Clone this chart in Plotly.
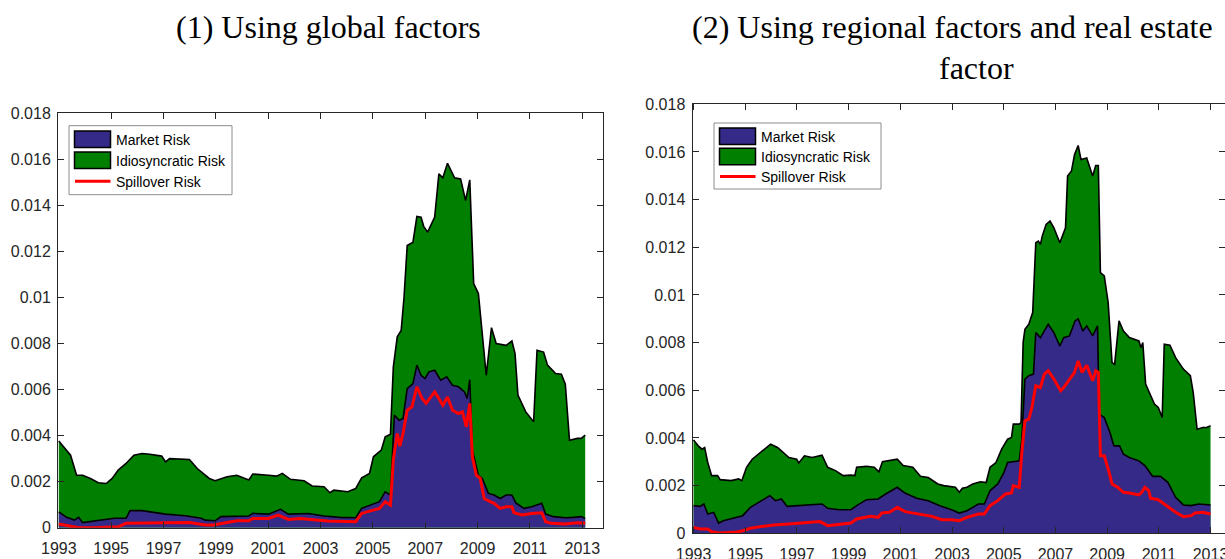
import plotly.graph_objects as go

W, H = 1225, 559

# ---------------- DATA ----------------
# Panel (1): Using global factors
left_total_years = [1993.00, 1993.23, 1993.45, 1993.68, 1993.91, 1994.21, 1994.51, 1994.81, 1995.04, 1995.27,
                    1995.57, 1995.87, 1996.18, 1996.48, 1996.93, 1997.08, 1997.23, 1997.99, 1998.29, 1998.75,
                    1998.97, 1999.43, 1999.80, 2000.26, 2000.41, 2001.01, 2001.32, 2001.54, 2001.85, 2002.37,
                    2002.68, 2003.13, 2003.36, 2003.51, 2004.04, 2004.34, 2004.57, 2004.87, 2005.02, 2005.32,
                    2005.47, 2005.67, 2005.78, 2005.93, 2006.08, 2006.19, 2006.31, 2006.53, 2006.68, 2006.84,
                    2006.94, 2007.09, 2007.21, 2007.36, 2007.52, 2007.67, 2007.85, 2007.97, 2008.12, 2008.35,
                    2008.54, 2008.70, 2008.76, 2008.85, 2009.03, 2009.21, 2009.33, 2009.53, 2009.71, 2010.09,
                    2010.31, 2010.43, 2010.54, 2010.84, 2011.14, 2011.27, 2011.52, 2011.67, 2011.98, 2012.20,
                    2012.35, 2012.51, 2012.81, 2012.96, 2013.11]
left_total_risk = [0.00377, 0.00344, 0.00315, 0.00228, 0.00228, 0.00214, 0.00195, 0.00192, 0.00214, 0.00250,
                   0.00279, 0.00315, 0.00322, 0.00319, 0.00311, 0.00286, 0.00300, 0.00296, 0.00257, 0.00214,
                   0.00204, 0.00221, 0.00228, 0.00207, 0.00233, 0.00228, 0.00224, 0.00236, 0.00210, 0.00204,
                   0.00181, 0.00178, 0.00152, 0.00163, 0.00156, 0.00170, 0.00217, 0.00236, 0.00308, 0.00337,
                   0.00395, 0.00406, 0.00698, 0.00829, 0.00857, 0.01002, 0.01226, 0.01240, 0.01352, 0.01349,
                   0.01309, 0.01284, 0.01313, 0.01349, 0.01537, 0.01520, 0.01583, 0.01552, 0.01520, 0.01515,
                   0.01421, 0.01511, 0.01291, 0.01060, 0.01017, 0.00814, 0.00662, 0.00869, 0.00800, 0.00792,
                   0.00811, 0.00756, 0.00576, 0.00503, 0.00460, 0.00771, 0.00763, 0.00706, 0.00670, 0.00667,
                   0.00623, 0.00380, 0.00388, 0.00388, 0.00402]

left_market_years = [1993.00, 1993.30, 1993.60, 1993.76, 1993.91, 1994.51, 1995.12, 1995.57, 1995.72, 1996.18,
                     1996.78, 1997.08, 1997.84, 1998.44, 1998.59, 1998.97, 1999.20, 1999.80, 2000.26, 2000.41,
                     2001.01, 2001.47, 2001.77, 2002.53, 2003.13, 2003.74, 2004.34, 2004.57, 2004.87, 2005.25,
                     2005.47, 2005.67, 2005.82, 2006.00, 2006.15, 2006.31, 2006.53, 2006.68, 2006.84, 2006.99,
                     2007.14, 2007.36, 2007.59, 2007.82, 2008.04, 2008.27, 2008.50, 2008.60, 2008.70, 2008.80,
                     2009.03, 2009.18, 2009.41, 2009.63, 2009.86, 2010.09, 2010.31, 2010.46, 2010.77, 2011.07,
                     2011.45, 2011.60, 2011.90, 2012.35, 2012.66, 2012.96, 2013.11]
left_market_risk = [0.00069, 0.00045, 0.00033, 0.00045, 0.00022, 0.00033, 0.00041, 0.00041, 0.00074, 0.00074,
                    0.00065, 0.00059, 0.00052, 0.00041, 0.00033, 0.00030, 0.00048, 0.00051, 0.00051, 0.00062,
                    0.00059, 0.00080, 0.00059, 0.00062, 0.00051, 0.00045, 0.00043, 0.00084, 0.00098, 0.00113,
                    0.00156, 0.00142, 0.00489, 0.00467, 0.00474, 0.00604, 0.00626, 0.00706, 0.00662, 0.00648,
                    0.00677, 0.00684, 0.00641, 0.00655, 0.00619, 0.00612, 0.00590, 0.00561, 0.00643, 0.00337,
                    0.00228, 0.00214, 0.00149, 0.00142, 0.00127, 0.00142, 0.00142, 0.00108, 0.00084, 0.00091,
                    0.00106, 0.00059, 0.00048, 0.00043, 0.00045, 0.00048, 0.00040]

left_spill_years = [1993.00, 1993.45, 1993.76, 1994.51, 1995.27, 1995.57, 1996.02, 1997.08, 1997.99, 1998.59,
                    1998.90, 1999.35, 1999.80, 2000.26, 2000.41, 2001.01, 2001.39, 2001.77, 2002.22, 2002.83,
                    2003.28, 2004.34, 2004.57, 2004.94, 2005.25, 2005.47, 2005.67, 2005.78, 2005.93, 2006.03,
                    2006.15, 2006.31, 2006.49, 2006.68, 2006.88, 2007.03, 2007.21, 2007.36, 2007.52, 2007.67,
                    2007.85, 2008.04, 2008.27, 2008.42, 2008.57, 2008.70, 2008.80, 2008.95, 2009.10, 2009.25,
                    2009.48, 2009.63, 2009.86, 2010.09, 2010.31, 2010.39, 2010.69, 2011.07, 2011.45, 2011.60,
                    2011.82, 2012.35, 2012.81, 2013.11]
left_spill_risk = [0.00016, 0.00007, 0.00000, 0.00001, 0.00004, 0.00019, 0.00019, 0.00022, 0.00023, 0.00012,
                   0.00012, 0.00022, 0.00030, 0.00030, 0.00040, 0.00040, 0.00055, 0.00036, 0.00040, 0.00033,
                   0.00029, 0.00026, 0.00062, 0.00074, 0.00084, 0.00113, 0.00098, 0.00294, 0.00409, 0.00354,
                   0.00409, 0.00510, 0.00525, 0.00612, 0.00561, 0.00540, 0.00568, 0.00590, 0.00561, 0.00532,
                   0.00568, 0.00510, 0.00496, 0.00503, 0.00438, 0.00540, 0.00308, 0.00228, 0.00214, 0.00127,
                   0.00113, 0.00106, 0.00084, 0.00091, 0.00091, 0.00065, 0.00055, 0.00062, 0.00065, 0.00026,
                   0.00019, 0.00016, 0.00022, 0.00019]

# Panel (2): Using regional factors and real estate factor
right_total_years = [1993.00, 1993.18, 1993.33, 1993.43, 1993.55, 1993.70, 1993.93, 1994.03, 1994.45, 1994.75,
                     1994.87, 1995.05, 1995.27, 1995.65, 1995.98, 1996.25, 1996.69, 1996.99, 1997.07, 1997.29,
                     1997.59, 1997.97, 1998.19, 1998.49, 1998.79, 1999.09, 1999.24, 1999.31, 1999.69, 1999.99,
                     2000.17, 2000.31, 2000.58, 2000.88, 2001.11, 2001.48, 2001.78, 2002.08, 2002.45, 2002.68,
                     2003.13, 2003.28, 2003.40, 2003.58, 2003.80, 2004.10, 2004.32, 2004.47, 2004.70, 2004.92,
                     2005.15, 2005.30, 2005.37, 2005.60, 2005.67, 2005.75, 2005.82, 2005.97, 2006.12, 2006.24,
                     2006.34, 2006.42, 2006.49, 2006.64, 2006.79, 2006.94, 2007.17, 2007.32, 2007.39, 2007.47,
                     2007.62, 2007.74, 2007.88, 2007.99, 2008.21, 2008.44, 2008.56, 2008.66, 2008.74, 2008.89,
                     2009.04, 2009.19, 2009.29, 2009.46, 2009.63, 2009.86, 2010.23, 2010.31, 2010.38, 2010.49,
                     2010.68, 2010.83, 2010.98, 2011.13, 2011.21, 2011.43, 2011.65, 2011.95, 2012.22, 2012.33,
                     2012.48, 2012.70, 2012.85, 2013.00]
right_total_risk = [0.00392, 0.00367, 0.00353, 0.00360, 0.00297, 0.00242, 0.00242, 0.00225, 0.00221, 0.00228,
                    0.00221, 0.00277, 0.00311, 0.00346, 0.00374, 0.00360, 0.00318, 0.00311, 0.00295, 0.00325,
                    0.00318, 0.00328, 0.00277, 0.00263, 0.00242, 0.00244, 0.00242, 0.00277, 0.00281, 0.00277,
                    0.00258, 0.00300, 0.00304, 0.00311, 0.00284, 0.00277, 0.00239, 0.00234, 0.00207, 0.00200,
                    0.00193, 0.00172, 0.00189, 0.00193, 0.00207, 0.00216, 0.00213, 0.00277, 0.00297, 0.00353,
                    0.00395, 0.00402, 0.00458, 0.00458, 0.00465, 0.00800, 0.00856, 0.00877, 0.00926, 0.01219,
                    0.01226, 0.01212, 0.01247, 0.01296, 0.01310, 0.01282, 0.01219, 0.01268, 0.01282, 0.01499,
                    0.01520, 0.01589, 0.01627, 0.01568, 0.01575, 0.01499, 0.01543, 0.01543, 0.01094, 0.01080,
                    0.00968, 0.00716, 0.00709, 0.00891, 0.00849, 0.00821, 0.00807, 0.00779, 0.00800, 0.00626,
                    0.00577, 0.00542, 0.00528, 0.00486, 0.00793, 0.00789, 0.00737, 0.00689, 0.00661, 0.00591,
                    0.00437, 0.00444, 0.00444, 0.00451]

right_market_years = [1993.00, 1993.25, 1993.40, 1993.55, 1993.78, 1993.97, 1994.15, 1994.60, 1994.90, 1995.20,
                      1995.65, 1995.95, 1996.17, 1996.40, 1996.62, 1997.14, 1997.59, 1997.97, 1998.19, 1998.64,
                      1999.09, 1999.31, 1999.69, 2000.14, 2000.43, 2000.88, 2001.18, 2001.63, 2002.08, 2002.53,
                      2002.98, 2003.28, 2003.58, 2004.02, 2004.25, 2004.47, 2004.77, 2005.00, 2005.15, 2005.37,
                      2005.60, 2005.70, 2005.82, 2005.97, 2006.15, 2006.24, 2006.42, 2006.57, 2006.72, 2006.94,
                      2007.17, 2007.32, 2007.54, 2007.76, 2007.88, 2008.06, 2008.21, 2008.44, 2008.63, 2008.69,
                      2008.89, 2009.11, 2009.26, 2009.48, 2009.63, 2009.86, 2010.23, 2010.46, 2010.76, 2011.06,
                      2011.35, 2011.65, 2011.95, 2012.25, 2012.55, 2013.00]
right_market_risk = [0.00116, 0.00113, 0.00123, 0.00081, 0.00088, 0.00043, 0.00053, 0.00067, 0.00074, 0.00109,
                     0.00137, 0.00158, 0.00137, 0.00144, 0.00113, 0.00116, 0.00119, 0.00123, 0.00105, 0.00099,
                     0.00099, 0.00116, 0.00141, 0.00144, 0.00165, 0.00193, 0.00169, 0.00147, 0.00137, 0.00116,
                     0.00099, 0.00085, 0.00095, 0.00123, 0.00123, 0.00179, 0.00207, 0.00253, 0.00297, 0.00300,
                     0.00304, 0.00395, 0.00647, 0.00661, 0.00668, 0.00842, 0.00821, 0.00849, 0.00877, 0.00842,
                     0.00786, 0.00821, 0.00828, 0.00891, 0.00900, 0.00849, 0.00870, 0.00828, 0.00870, 0.00500,
                     0.00486, 0.00423, 0.00367, 0.00367, 0.00332, 0.00318, 0.00304, 0.00284, 0.00239, 0.00239,
                     0.00214, 0.00151, 0.00119, 0.00116, 0.00123, 0.00119]

right_spill_years = [1993.00, 1993.25, 1993.55, 1993.70, 1994.00, 1994.60, 1994.90, 1995.20, 1995.65, 1996.10,
                     1996.69, 1997.29, 1997.89, 1998.19, 1998.64, 1999.09, 1999.31, 1999.84, 2000.14, 2000.29,
                     2000.58, 2000.88, 2001.18, 2001.48, 2001.93, 2002.23, 2002.60, 2002.98, 2003.28, 2003.58,
                     2004.02, 2004.25, 2004.47, 2004.77, 2005.07, 2005.30, 2005.37, 2005.60, 2005.70, 2005.82,
                     2005.97, 2006.09, 2006.24, 2006.42, 2006.57, 2006.72, 2006.94, 2007.20, 2007.32, 2007.54,
                     2007.74, 2007.88, 2008.03, 2008.21, 2008.44, 2008.56, 2008.66, 2008.74, 2008.89, 2009.04,
                     2009.19, 2009.41, 2009.63, 2009.86, 2010.23, 2010.34, 2010.46, 2010.61, 2010.68, 2010.98,
                     2011.21, 2011.43, 2011.65, 2011.95, 2012.25, 2012.40, 2012.70, 2013.00]
right_spill_risk = [0.00025, 0.00018, 0.00018, 0.00007, 0.00001, 0.00004, 0.00011, 0.00021, 0.00029, 0.00035,
                    0.00039, 0.00043, 0.00049, 0.00032, 0.00039, 0.00043, 0.00060, 0.00071, 0.00067, 0.00085,
                    0.00088, 0.00109, 0.00091, 0.00085, 0.00077, 0.00071, 0.00057, 0.00057, 0.00053, 0.00067,
                    0.00081, 0.00081, 0.00116, 0.00137, 0.00165, 0.00169, 0.00200, 0.00193, 0.00339, 0.00472,
                    0.00479, 0.00528, 0.00619, 0.00612, 0.00668, 0.00682, 0.00647, 0.00598, 0.00612, 0.00647,
                    0.00675, 0.00723, 0.00675, 0.00705, 0.00640, 0.00682, 0.00675, 0.00325, 0.00325, 0.00270,
                    0.00207, 0.00193, 0.00172, 0.00169, 0.00161, 0.00172, 0.00193, 0.00179, 0.00147, 0.00141,
                    0.00123, 0.00109, 0.00088, 0.00070, 0.00074, 0.00085, 0.00088, 0.00081]

x_tick_years = [1993, 1995, 1997, 1999, 2001, 2003, 2005, 2007, 2009, 2011, 2013]
y_tick_values = [0, 0.002, 0.004, 0.006, 0.008, 0.01, 0.012, 0.014, 0.016, 0.018]
y_tick_labels = ["0", "0.002", "0.004", "0.006", "0.008", "0.01", "0.012", "0.014", "0.016", "0.018"]
series_names = ["Market Risk", "Idiosyncratic Risk", "Spillover Risk"]
titles = ["(1) Using global factors", "(2) Using regional factors and real estate", "factor"]

# ---------------- STYLE ----------------
BLUE = "#352a87"
GREEN = "#007f00"
RED = "#ff0000"
AX = "#262626"


def fx(p):
    return p / W


def fy(p):
    return 1 - p / H


fig = go.Figure()

panels = [
    ("x", "y", left_total_years, left_total_risk, left_market_years, left_market_risk,
     left_spill_years, left_spill_risk),
    ("x2", "y2", right_total_years, right_total_risk, right_market_years, right_market_risk,
     right_spill_years, right_spill_risk),
]
for xa, ya, tx, ty, mx, my, sx, sy in panels:
    fig.add_trace(go.Scatter(x=tx, y=ty, mode="lines", fill="tozeroy", fillcolor=GREEN,
                             line=dict(color="black", width=1.6), name=series_names[1],
                             showlegend=False, xaxis=xa, yaxis=ya, hoverinfo="skip"))
    fig.add_trace(go.Scatter(x=mx, y=my, mode="lines", fill="tozeroy", fillcolor=BLUE,
                             line=dict(color="black", width=1.6), name=series_names[0],
                             showlegend=False, xaxis=xa, yaxis=ya, hoverinfo="skip"))
    fig.add_trace(go.Scatter(x=sx, y=sy, mode="lines",
                             line=dict(color=RED, width=3), name=series_names[2],
                             showlegend=False, xaxis=xa, yaxis=ya, hoverinfo="skip"))

tick_font = dict(family="Liberation Sans, Arial", size=16, color=AX)
common_x = dict(tickvals=x_tick_years, ticktext=[str(v) for v in x_tick_years],
                ticks="inside", ticklen=6, tickwidth=1, tickcolor=AX,
                showline=True, linecolor=AX, linewidth=1, mirror="ticks",
                showgrid=False, zeroline=False, automargin=False,
                ticklabelstandoff=6, ticklabeloverflow="allow", tickfont=tick_font)
common_y = dict(tickvals=y_tick_values, ticktext=y_tick_labels, range=[0, 0.018],
                ticks="inside", ticklen=6, tickwidth=1, tickcolor=AX,
                showline=True, linecolor=AX, linewidth=1, mirror="ticks",
                showgrid=False, zeroline=False, automargin=False,
                ticklabelstandoff=3, ticklabeloverflow="allow", tickfont=tick_font)

fig.update_layout(
    width=W, height=H, margin=dict(l=0, r=0, t=0, b=0),
    paper_bgcolor="white", plot_bgcolor="white", template="none",
    showlegend=False,
    xaxis=dict(domain=[fx(58), fx(603)], range=[1992.97, 2013.79], anchor="y", **common_x),
    yaxis=dict(domain=[fy(527.7), fy(113.3)], anchor="x", **common_y),
    xaxis2=dict(domain=[fx(692.5), 1.0], range=[1992.96, 2013.56], anchor="y2", **common_x),
    yaxis2=dict(domain=[fy(533.3), fy(104.3)], anchor="x2", **common_y),
)

# titles
title_font = dict(family="Liberation Serif, Times New Roman", size=32, color="black")
fig.add_annotation(text=titles[0], x=fx(328), y=fy(27), xref="paper", yref="paper",
                   xanchor="center", yanchor="middle", showarrow=False, font=title_font)
fig.add_annotation(text=titles[1], x=fx(952), y=fy(27), xref="paper", yref="paper",
                   xanchor="center", yanchor="middle", showarrow=False, font=title_font)
fig.add_annotation(text=titles[2], x=fx(976), y=fy(68), xref="paper", yref="paper",
                   xanchor="center", yanchor="middle", showarrow=False, font=title_font)

# hand-drawn legends (MATLAB style)
leg_font = dict(family="Liberation Sans, Arial", size=14, color="black")
for (bx, by, bw, bh) in [(69, 125.7, 163, 69), (714, 123, 167, 66)]:
    fig.add_shape(type="rect", xref="paper", yref="paper",
                  x0=fx(bx), x1=fx(bx + bw), y0=fy(by + bh), y1=fy(by),
                  line=dict(color="#8c8c8c", width=1), fillcolor="white")
    rows = [by + 13.5, by + 34.5, by + 55.5] if bh > 67 else [by + 13.3, by + 33.5, by + 53.5]
    for i, col in enumerate([BLUE, GREEN]):
        fig.add_shape(type="rect", xref="paper", yref="paper",
                      x0=fx(bx + 5.5), x1=fx(bx + 41.5), y0=fy(rows[i] + 8.3), y1=fy(rows[i] - 8.3),
                      line=dict(color="black", width=1.5), fillcolor=col)
    fig.add_shape(type="line", xref="paper", yref="paper",
                  x0=fx(bx + 6), x1=fx(bx + 41.5), y0=fy(rows[2]), y1=fy(rows[2]),
                  line=dict(color=RED, width=3))
    for i, name in enumerate(series_names):
        fig.add_annotation(text=name, x=fx(bx + 44.5), y=fy(rows[i] + 0.5), xref="paper", yref="paper",
                           xanchor="left", yanchor="middle", showarrow=False, font=leg_font)

fig.write_html("out.html", config={"displayModeBar": False},
               post_script="document.body.style.margin='0px';document.body.style.overflow='hidden';")
